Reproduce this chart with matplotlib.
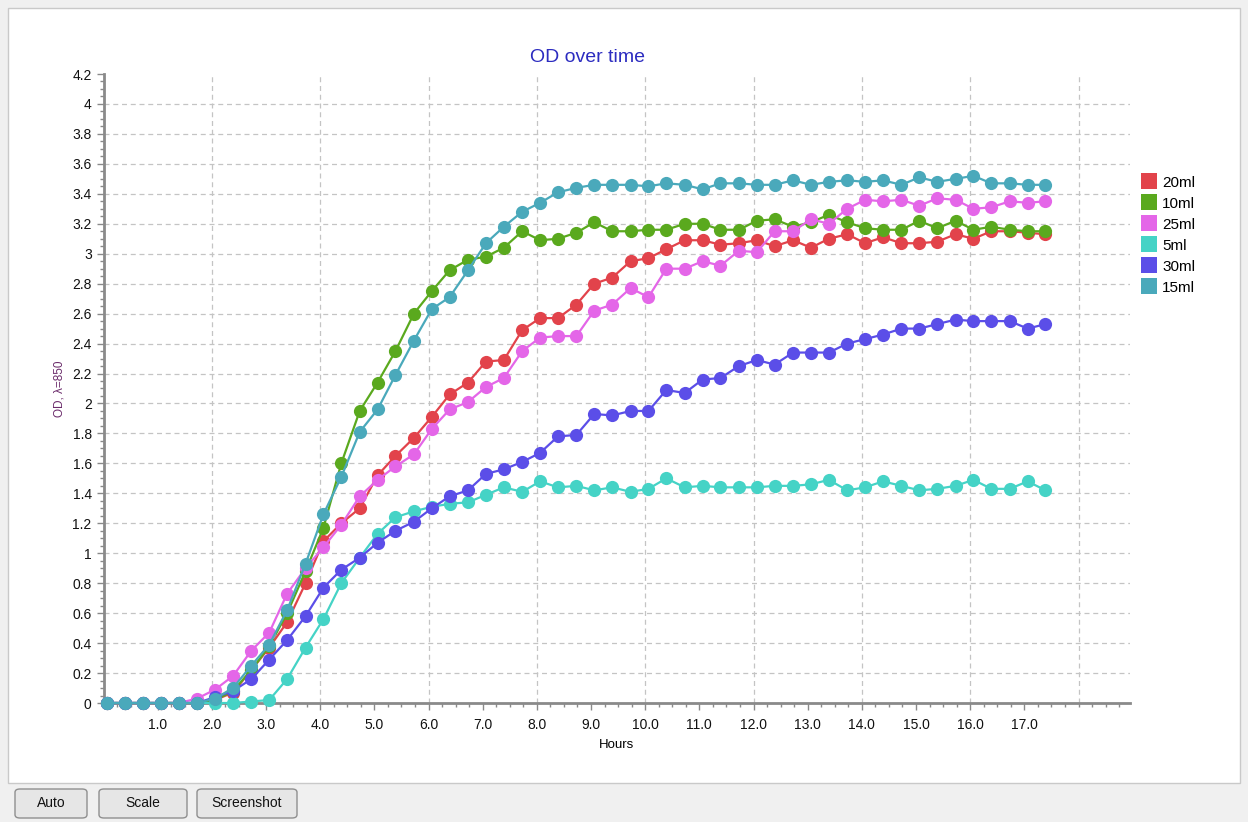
import matplotlib.pyplot as plt
from matplotlib.patches import Rectangle, FancyBboxPatch
from matplotlib.ticker import MultipleLocator, FixedLocator, FuncFormatter

# sample times (hours), one reading every 20 minutes
hours = [0.06, 0.39, 0.73, 1.06, 1.39, 1.73, 2.06, 2.39, 2.73, 3.06,
         3.39, 3.73, 4.06, 4.39, 4.73, 5.06, 5.39, 5.73, 6.06, 6.39,
         6.73, 7.06, 7.39, 7.73, 8.06, 8.39, 8.73, 9.06, 9.39, 9.73,
         10.06, 10.39, 10.73, 11.06, 11.39, 11.73, 12.06, 12.39, 12.73, 13.06,
         13.39, 13.73, 14.06, 14.39, 14.73, 15.06, 15.39, 15.73, 16.06, 16.39,
         16.73, 17.06, 17.39]

od_20ml = [0, 0, 0, 0, 0, 0, 0.02, 0.07, 0.22, 0.37,
           0.54, 0.80, 1.08, 1.20, 1.30, 1.52, 1.65, 1.77, 1.91, 2.06,
           2.14, 2.28, 2.29, 2.49, 2.57, 2.57, 2.66, 2.80, 2.84, 2.95,
           2.97, 3.03, 3.09, 3.09, 3.06, 3.07, 3.09, 3.05, 3.09, 3.04,
           3.10, 3.13, 3.07, 3.11, 3.07, 3.07, 3.08, 3.13, 3.10, 3.15,
           3.15, 3.14, 3.13]
od_10ml = [0, 0, 0, 0, 0, 0, 0.02, 0.08, 0.22, 0.38,
           0.60, 0.88, 1.17, 1.60, 1.95, 2.14, 2.35, 2.60, 2.75, 2.89,
           2.96, 2.98, 3.04, 3.15, 3.09, 3.10, 3.14, 3.21, 3.15, 3.15,
           3.16, 3.16, 3.20, 3.20, 3.16, 3.16, 3.22, 3.23, 3.18, 3.21,
           3.26, 3.21, 3.17, 3.16, 3.16, 3.22, 3.17, 3.22, 3.16, 3.18,
           3.16, 3.15, 3.15]
od_25ml = [0, 0, 0, 0, 0, 0.03, 0.09, 0.18, 0.35, 0.47,
           0.73, 0.90, 1.04, 1.19, 1.38, 1.49, 1.58, 1.66, 1.83, 1.96,
           2.01, 2.11, 2.17, 2.35, 2.44, 2.45, 2.45, 2.62, 2.66, 2.77,
           2.71, 2.90, 2.90, 2.95, 2.92, 3.02, 3.01, 3.15, 3.15, 3.23,
           3.20, 3.30, 3.36, 3.35, 3.36, 3.32, 3.37, 3.36, 3.30, 3.31,
           3.35, 3.34, 3.35]
od_5ml = [0, 0, 0, 0, 0, 0, 0, 0, 0.01, 0.02,
          0.16, 0.37, 0.56, 0.80, 0.97, 1.13, 1.24, 1.28, 1.31, 1.33,
          1.34, 1.39, 1.44, 1.41, 1.48, 1.44, 1.45, 1.42, 1.44, 1.41,
          1.43, 1.50, 1.44, 1.45, 1.44, 1.44, 1.44, 1.45, 1.45, 1.46,
          1.49, 1.42, 1.44, 1.48, 1.45, 1.42, 1.43, 1.45, 1.49, 1.43,
          1.43, 1.48, 1.42]
od_30ml = [0, 0, 0, 0, 0, 0, 0.04, 0.08, 0.16, 0.29,
           0.42, 0.58, 0.77, 0.89, 0.97, 1.07, 1.15, 1.21, 1.30, 1.38,
           1.42, 1.53, 1.56, 1.61, 1.67, 1.78, 1.79, 1.93, 1.92, 1.95,
           1.95, 2.09, 2.07, 2.16, 2.17, 2.25, 2.29, 2.26, 2.34, 2.34,
           2.34, 2.40, 2.43, 2.46, 2.50, 2.50, 2.53, 2.56, 2.55, 2.55,
           2.55, 2.50, 2.53]
od_15ml = [0, 0, 0, 0, 0, 0, 0.03, 0.10, 0.25, 0.39,
           0.62, 0.93, 1.26, 1.51, 1.81, 1.96, 2.19, 2.42, 2.63, 2.71,
           2.89, 3.07, 3.18, 3.28, 3.34, 3.41, 3.44, 3.46, 3.46, 3.46,
           3.45, 3.47, 3.46, 3.43, 3.47, 3.47, 3.46, 3.46, 3.49, 3.46,
           3.48, 3.49, 3.48, 3.49, 3.46, 3.51, 3.48, 3.50, 3.52, 3.47,
           3.47, 3.46, 3.46]

labels = ["20ml", "10ml", "25ml", "5ml", "30ml", "15ml"]
series = [od_20ml, od_10ml, od_25ml, od_5ml, od_30ml, od_15ml]
colors = ["#e2434b", "#5aa91e", "#e466e8", "#45d3c6", "#5b4ee8", "#4aa9bb"]

x_labels = [1, 2, 3, 4, 5, 6, 7, 8, 9, 10, 11, 12, 13, 14, 15, 16, 17]

plt.rcParams["font.family"] = ["Liberation Sans", "DejaVu Sans"]

W, H = 1248, 822
fig = plt.figure(figsize=(W / 100, H / 100), dpi=100, facecolor="#f0f0f0")

# white panel with a thin border
fig.patches.append(Rectangle((8 / W, 1 - 783 / H), 1232 / W, 775 / H,
                             transform=fig.transFigure, facecolor="white",
                             edgecolor="#c9c9c9", linewidth=1, zorder=-5))

ax = fig.add_axes([103.5 / W, 1 - 703 / H, (1130 - 103.5) / W, (703 - 74) / H])
ax.set_zorder(3)
ax.set_facecolor("none")
ax.set_xlim(0, 18.95)
ax.set_ylim(0, 4.2)

for y, lab, col in zip(series, labels, colors):
    ax.plot(hours, y, color=col, lw=1.6, marker="o", ms=9.5,
            markeredgewidth=0, label=lab, clip_on=False, zorder=3)

for s in ["top", "right"]:
    ax.spines[s].set_visible(False)
for s in ["left", "bottom"]:
    ax.spines[s].set_color("#8a8a8a")
    ax.spines[s].set_linewidth(2)

ax.yaxis.set_major_locator(MultipleLocator(0.2))
ax.yaxis.set_minor_locator(MultipleLocator(0.05))
ax.yaxis.set_major_formatter(FuncFormatter(lambda v, p: f"{v:.1f}".rstrip("0").rstrip(".")))
ax.xaxis.set_major_locator(FixedLocator(x_labels))
ax.xaxis.set_minor_locator(MultipleLocator(0.25))
ax.xaxis.set_major_formatter(FuncFormatter(lambda v, p: f"{v:.1f}"))

ax.tick_params(axis="both", which="major", length=5, width=1, color="#8a8a8a",
               labelsize=10, labelcolor="#111111")
ax.tick_params(axis="both", which="minor", length=3, width=1, color="#8a8a8a")
ax.tick_params(axis="x", which="major", pad=6)

# dashed grid: every 0.2 OD, every 2 hours
for v in [0.2 * k for k in range(1, 21)]:
    ax.axhline(v, color="#c4c4c4", lw=0.9, ls=(0, (4, 3)), zorder=1)
for v in range(2, 19, 2):
    ax.axvline(v, color="#c4c4c4", lw=0.9, ls=(0, (4, 3)), zorder=1)

ax.set_xlabel("Hours", fontsize=9.5, labelpad=5)
ax.set_ylabel("OD, \u03bb=850", fontsize=8.5, color="#6a2a6a", labelpad=5)

fig.text(588 / W, 1 - 58 / H, "OD over time", ha="center", va="center",
         fontsize=14, color="#2c2cc0")

ax.legend(loc="upper left", bbox_to_anchor=(1.0, 0.859), frameon=False,
          fontsize=11, handlelength=0.9, handleheight=0.9, handletextpad=0.4,
          labelspacing=0.42, borderaxespad=0.4)
leg = ax.get_legend()
for h, col in zip(leg.legend_handles, colors):
    h.set_linestyle("none")
    h.set_marker("s")
    h.set_markersize(11)
    h.set_markerfacecolor(col)

# buttons
for name, x0, x1 in [("Auto", 15, 87), ("Scale", 99, 187), ("Screenshot", 197, 297)]:
    fig.patches.append(FancyBboxPatch((x0 / W, 1 - 818 / H), (x1 - x0) / W, 29 / H,
                                      boxstyle="round,pad=0,rounding_size=0.004",
                                      transform=fig.transFigure,
                                      facecolor="#e6e6e6", edgecolor="#8f8f8f",
                                      linewidth=1))
    fig.text((x0 + x1) / 2 / W, 1 - 803 / H, name, ha="center", va="center",
             fontsize=10, color="#111111")

fig.savefig("out.png", dpi=100, facecolor=fig.get_facecolor())
